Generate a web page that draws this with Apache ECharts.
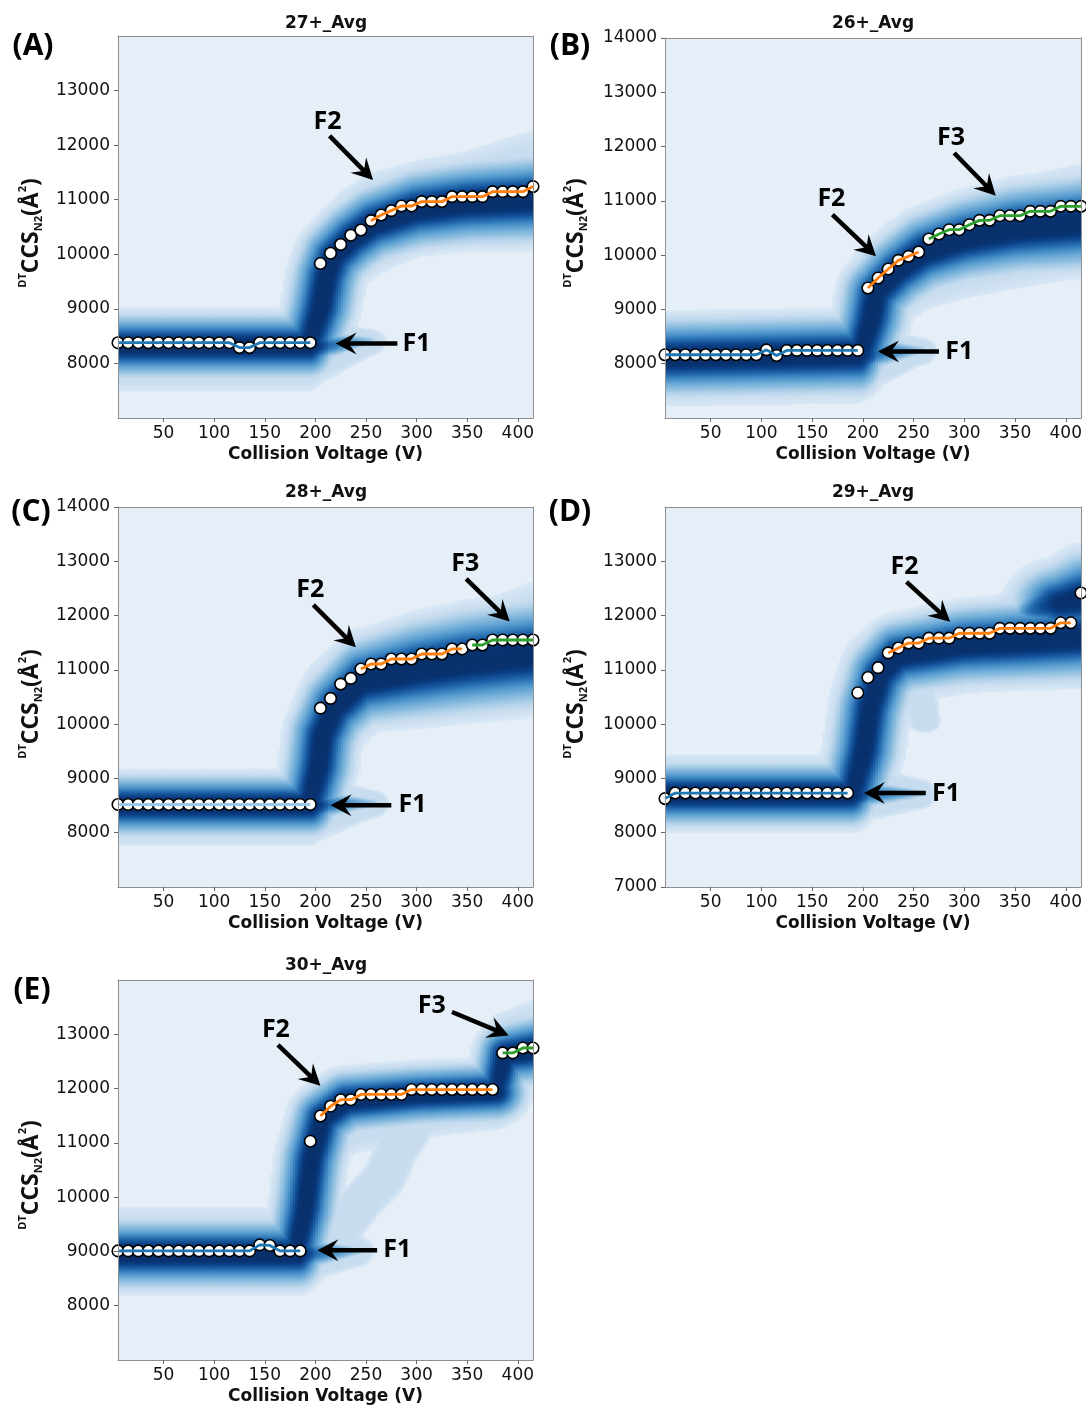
<!DOCTYPE html>
<html><head><meta charset="utf-8">
<script src="https://cdn.jsdelivr.net/npm/echarts@6/dist/echarts.min.js"></script>
<style>html,body{margin:0;padding:0;background:#fff}#c{width:1086px;height:1408px}</style>
</head><body><div id="c"></div>
<script>
// ---------------- DATA ----------------
const X_MIN = 5, X_MAX = 415, Y_MIN = 7000, Y_MAX = 14000;
const VOLTAGES = [5,15,25,35,45,55,65,75,85,95,105,115,125,135,145,155,165,175,185,195,205,215,225,235,245,255,265,275,285,295,305,315,325,335,345,355,365,375,385,395,405,415];
const X_TICKS = [50,100,150,200,250,300,350,400];
const TITLES = ['27+_Avg','26+_Avg','28+_Avg','29+_Avg','30+_Avg'];
const PANEL_LETTERS = ['(A)','(B)','(C)','(D)','(E)'];

const A_Y_TICKS = [8000,9000,10000,11000,12000,13000];
const B_Y_TICKS = [8000,9000,10000,11000,12000,13000,14000];
const C_Y_TICKS = [8000,9000,10000,11000,12000,13000,14000];
const D_Y_TICKS = [7000,8000,9000,10000,11000,12000,13000];
const E_Y_TICKS = [8000,9000,10000,11000,12000,13000];

// feature centroids (CCS) at each voltage
const A_CCS = [8380,8380,8380,8380,8380,8380,8380,8380,8380,8380,8380,8380,8290,8290,8380,8380,8380,8380,8380,8380,9830,10020,10180,10350,10445,10616,10720,10800,10885,10885,10965,10965,10965,11056,11056,11056,11056,11148,11148,11148,11148,11240];
const B_CCS = [8165,8165,8165,8165,8165,8165,8165,8165,8165,8165,8255,8150,8245,8245,8245,8245,8245,8245,8245,8245,9394,9579,9744,9904,9978,10058,10297,10389,10469,10469,10561,10641,10641,10727,10727,10727,10807,10807,10807,10899,10899,10899];
const C_CCS = [8520,8520,8520,8520,8520,8520,8520,8520,8520,8520,8520,8520,8520,8520,8520,8520,8520,8520,8520,8520,10295,10474,10738,10843,11015,11108,11108,11200,11200,11200,11292,11292,11292,11385,11385,11458,11458,11550,11550,11550,11550,11550];
const D_CCS = [8628,8731,8731,8731,8731,8731,8731,8731,8731,8731,8731,8731,8731,8731,8731,8731,8731,8731,8731,10577,10860,11041,11312,11403,11493,11493,11584,11584,11584,11674,11674,11674,11674,11765,11765,11765,11765,11765,11765,11867,11867,12416];
const E_CCS = [9010,9010,9010,9010,9010,9010,9010,9010,9010,9010,9010,9010,9010,9010,9120,9110,9010,9010,9010,11030,11494,11675,11795,11795,11892,11892,11892,11892,11892,11982,11982,11982,11982,11982,11982,11982,11982,11982,12657,12657,12747,12747];

// feature fit lines: [feature, fromV, toV]
const A_LINES = [['F1',5,195],['F2',255,415]];
const B_LINES = [['F1',5,195],['F2',205,255],['F3',265,415]];
const C_LINES = [['F1',5,195],['F2',245,345],['F3',355,415]];
const D_LINES = [['F1',5,185],['F2',225,405]];
const E_LINES = [['F1',5,185],['F2',205,375],['F3',385,415]];

// annotation arrows: [tailV, tailCCS, tipV, tipCCS]; labels: [text, V, CCS]
const A_ARROWS = [[214,12169,257,11362],[281,8367,220,8367]];
const A_LABELS = [['F2',212,12431],['F1',300,8367]];
const B_ARROWS = [[290,11882,331,11096],[170,10746,213,9978],[275,8227,215,8227]];
const B_LABELS = [['F3',287,12158],['F2',169,11034],['F1',295,8227]];
const C_ARROWS = [[198,12197,240,11415],[349,12677,392,11889],[275,8505,215,8505]];
const C_LABELS = [['F2',195,12480],['F3',348,12954],['F1',296,8505]];
const D_ARROWS = [[243,12621,286,11885],[262,8731,201,8731]];
const D_LABELS = [['F2',241,12898],['F1',282,8720]];
const E_ARROWS = [[335,13410,391,12976],[163,12807,205,12054],[261,9024,202,9024]];
const E_LABELS = [['F3',315,13518],['F2',161,13078],['F1',281,9024]];

// fingerprint density bands: path vertices [V, centreCCS, coreHalfWidth, haloUp, haloDown, coreAmp]
const A_BAND_F1 = [[0,8320,260,570,840,1],[194,8320,260,570,840,1],[214,8340,170,470,620,0.4],[252,8420,110,220,300,0.15]];
const A_BAND_F2 = [[195,8420,150,250,250,0.9],[205,9000,250,550,550,1],[211,9600,270,800,800,1],[218,9950,280,900,950,1],[236,10280,290,950,950,1],[257,10550,300,950,950,1],[300,10820,320,900,850,1],[350,10940,330,950,850,1],[420,11010,350,1300,620,1]];
const B_BAND_F1 = [[0,8110,320,670,900,1],[196,8170,320,620,900,1],[214,8200,200,450,650,0.4],[255,8250,120,250,300,0.15]];
const B_BAND_F2 = [[199,8250,150,250,250,0.9],[208,8800,250,550,600,1],[213,9300,280,1000,900,1],[234,9700,300,950,1000,1],[260,10050,320,900,1050,1],[300,10300,340,900,1100,1],[350,10480,360,950,1100,1],[420,10600,380,1100,1000,1]];
const C_BAND_F1 = [[0,8500,250,640,750,1],[195,8500,250,640,750,1],[213,8520,170,500,600,0.4],[255,8550,110,250,300,0.15]];
const C_BAND_F2 = [[195,8600,150,250,250,0.9],[203,9200,250,600,600,1],[207,9800,300,900,900,1],[219,10300,320,1000,1000,1],[246,10780,350,1000,1000,1],[300,11000,400,950,1000,1],[350,11150,420,1000,1050,1],[420,11300,430,1350,900,1]];
const D_BAND_F1 = [[0,8700,260,740,700,1],[188,8700,260,740,700,1],[206,8710,170,550,500,0.4],[255,8720,110,280,300,0.15]];
const D_BAND_F2 = [[191,8800,150,250,250,0.9],[201,9500,250,600,600,1],[207,10300,300,900,900,1],[217,10900,300,900,900,1],[234,11250,300,800,900,1],[300,11460,320,700,900,1],[350,11510,330,700,900,1],[420,11600,350,900,800,1]];
const D_BAND_F3 = [[355,12000,150,500,400,0.2],[395,12230,330,750,600,0.85],[420,12330,380,800,600,0.95]];
const D_BAND_X = [[256,10650,80,300,300,0.03],[261,10050,80,220,220,0.03]];
const E_BAND_F1 = [[0,8950,280,870,700,1],[183,8950,280,870,700,1],[200,8970,190,600,500,0.4],[240,9000,110,300,300,0.15]];
const E_BAND_F2 = [[182,9100,150,300,300,0.9],[190,9800,250,700,700,1],[196,10700,280,900,900,1],[207,11450,260,700,1100,1],[230,11760,250,550,1000,1],[300,11880,240,520,800,1],[378,11940,240,520,700,1]];
const E_BAND_F3 = [[379,11980,200,300,300,0.85],[387,12620,250,800,600,1],[420,12720,280,950,700,1]];
const E_BAND_T = [[198,8950,150,350,350,0.05],[222,9350,150,400,400,0.05],[245,9900,150,400,400,0.05],[268,10350,150,400,400,0.05],[280,10850,150,400,400,0.05],[295,11300,150,400,400,0.05]];

// horizontal widths [halo, core] (V) for each band
const A_BANDS = [A_BAND_F1, A_BAND_F2];            const A_BAND_HX = [[18,9],[28,12]];
const B_BANDS = [B_BAND_F1, B_BAND_F2];            const B_BAND_HX = [[18,9],[32,12]];
const C_BANDS = [C_BAND_F1, C_BAND_F2];            const C_BAND_HX = [[18,9],[38,12]];
const D_BANDS = [D_BAND_F1, D_BAND_F2, D_BAND_F3, D_BAND_X]; const D_BAND_HX = [[18,9],[42,12],[35,18],[16,8]];
const E_BANDS = [E_BAND_F1, E_BAND_F2, E_BAND_F3, E_BAND_T]; const E_BAND_HX = [[18,9],[30,11],[25,10],[22,12]];

// colour scale (intensity -> colour)
const CMAP_STOPS  = [0, 0.049, 0.05, 0.07, 0.09, 0.12, 0.16, 0.22, 0.3, 0.4, 0.52, 0.65, 0.8, 1];
const CMAP_COLORS = ['#e6eff8','#e6eff8','#d9e8f5','#d0e2f2','#c8dcef','#aed0e8','#8abbde','#62a4d3','#3f88c3','#2469ad','#135198','#0a3e83','#083270','#08306b'];

// ---------------- LAYOUT / STYLE ----------------
const GRIDS = [
  {left:118, top:36, width:415, height:382},
  {left:665, top:38, width:416, height:380},
  {left:118, top:507, width:415, height:380},
  {left:665, top:507, width:416, height:380},
  {left:118, top:980, width:415, height:380}
];
const TITLE_POS = [[326,24],[873,24],[326,493],[873,493],[326,966]];
const LETTER_POS = [[33,46],[570,46],[31,512],[570,512],[32,990]];
const YNAME_POS = [[31,233],[576,233],[31,704],[576,704],[31,1175]];
const F1_COLORS = ['#1f77b4','#1f77b4','#9cc8e6','#1f77b4','#1f77b4'];
const FEATURE_COLORS = {F2:'#ff7f0e', F3:'#2ca02c'};
const CORE_SCALE = 0.8;

const PANEL_CCS = [A_CCS,B_CCS,C_CCS,D_CCS,E_CCS];
const PANEL_LINES = [A_LINES,B_LINES,C_LINES,D_LINES,E_LINES];
const PANEL_ARROWS = [A_ARROWS,B_ARROWS,C_ARROWS,D_ARROWS,E_ARROWS];
const PANEL_LABELS = [A_LABELS,B_LABELS,C_LABELS,D_LABELS,E_LABELS];
const PANEL_YTICKS = [A_Y_TICKS,B_Y_TICKS,C_Y_TICKS,D_Y_TICKS,E_Y_TICKS];
const PANEL_BANDS = [A_BANDS,B_BANDS,C_BANDS,D_BANDS,E_BANDS];
const PANEL_BAND_HX = [A_BAND_HX,B_BAND_HX,C_BAND_HX,D_BAND_HX,E_BAND_HX];

// ---------------- density model ----------------
const DENSITY_STEP = 2.5, DENSITY_ROWS = 280;
const DENSITY_COLUMNS = [];
for (let v = X_MIN + DENSITY_STEP/2; v < X_MAX; v += DENSITY_STEP) DENSITY_COLUMNS.push([v]);

const CMAP_RGB = CMAP_COLORS.map(h => [parseInt(h.slice(1,3),16), parseInt(h.slice(3,5),16), parseInt(h.slice(5,7),16)]);
function cmap(I) {
  if (I <= CMAP_STOPS[0]) return 'rgb(' + CMAP_RGB[0].join(',') + ')';
  for (let i = 1; i < CMAP_STOPS.length; i++) {
    if (I <= CMAP_STOPS[i]) {
      const t = (I - CMAP_STOPS[i-1]) / (CMAP_STOPS[i] - CMAP_STOPS[i-1]);
      const a = CMAP_RGB[i-1], b = CMAP_RGB[i];
      return 'rgb(' + Math.round(a[0]+(b[0]-a[0])*t) + ',' + Math.round(a[1]+(b[1]-a[1])*t) + ',' + Math.round(a[2]+(b[2]-a[2])*t) + ')';
    }
  }
  return 'rgb(' + CMAP_RGB[CMAP_RGB.length-1].join(',') + ')';
}
const PED = 0.09;
function pedestal(u) { if (u <= 0.75) return PED; if (u < 1) return PED - 0.035*(u-0.75)/0.25; return 0; }
function lerpV(a, b, t) { const r = []; for (let i = 0; i < a.length; i++) r.push(a[i] + (b[i]-a[i])*t); return r; }
function project(v, c, a, b, sx, sy) {
  const dx = (b[0]-a[0])/sx, dy = (b[1]-a[1])/sy;
  const px = (v-a[0])/sx, py = (c-a[1])/sy;
  const L = dx*dx + dy*dy;
  if (L === 0) return 0;
  let t = (px*dx + py*dy)/L;
  return t < 0 ? 0 : (t > 1 ? 1 : t);
}
function bandValue(v, c, path, hx, hxc) {
  let best = 0;
  for (let i = 0; i < path.length - 1; i++) {
    const a = path[i], b = path[i+1];
    const t = project(v, c, a, b, hx, (a[3]+a[4]+b[3]+b[4])/4);
    const q = lerpV(a, b, t);
    const dx = (v - q[0]) / hx, dyr = c - q[1];
    const dy = dyr / (dyr > 0 ? q[3] : q[4]);
    const p = pedestal(Math.sqrt(dx*dx + dy*dy));
    if (p > best) best = p;
    const t2 = project(v, c, a, b, hxc, CORE_SCALE*(a[2]+b[2])/2);
    const q2 = lerpV(a, b, t2);
    const ex = (v - q2[0]) / hxc, ey = (c - q2[1]) / (CORE_SCALE*q2[2]);
    const d2 = ex*ex + ey*ey;
    const core = q2[5] * (0.65*Math.exp(-d2) + 0.35*Math.exp(-d2/6));
    if (core > best) best = core;
  }
  return best;
}
function makeDensityRenderer(bands, hxs) {
  return function (params, api) {
    const v = api.value(0);
    const p0 = api.coord([v - DENSITY_STEP/2, Y_MAX]);
    const p1 = api.coord([Math.min(v + DENSITY_STEP/2, X_MAX), Y_MIN]);
    const stops = [];
    for (let k = 0; k <= DENSITY_ROWS; k++) {
      const c = Y_MAX - (Y_MAX - Y_MIN) * k / DENSITY_ROWS;
      let I = 0;
      for (let b = 0; b < bands.length; b++) {
        const val = bandValue(v, c, bands[b], hxs[b][0], hxs[b][1]);
        if (val > I) I = val;
      }
      stops.push({offset: k / DENSITY_ROWS, color: cmap(I)});
    }
    const extra = (v + DENSITY_STEP/2 < X_MAX) ? 0.8 : 0;
    return {
      type: 'rect', silent: true,
      shape: {x: p0[0], y: p0[1], width: p1[0]-p0[0]+extra, height: p1[1]-p0[1]},
      style: {fill: new echarts.graphic.LinearGradient(0, 0, 0, 1, stops)}
    };
  };
}
function renderArrow(params, api) {
  const p0 = api.coord([api.value(0), api.value(1)]);
  const p1 = api.coord([api.value(2), api.value(3)]);
  const dx = p1[0]-p0[0], dy = p1[1]-p0[1], len = Math.hypot(dx, dy);
  const ux = dx/len, uy = dy/len, nx = -uy, ny = ux;
  const L = 21, W = 11, N = 13;
  const base = [p1[0]-ux*N, p1[1]-uy*N];
  return {type: 'group', children: [
    {type: 'line', shape: {x1: p0[0], y1: p0[1], x2: base[0]+ux*2, y2: base[1]+uy*2}, style: {stroke: '#000', lineWidth: 4.5}},
    {type: 'polygon', shape: {points: [p1, [p1[0]-ux*L+nx*W, p1[1]-uy*L+ny*W], base, [p1[0]-ux*L-nx*W, p1[1]-uy*L-ny*W]]}, style: {fill: '#000'}}
  ]};
}
function makeLabelRenderer(labels) {
  return function (params, api) {
    const p = api.coord([api.value(0), api.value(1)]);
    return {type: 'text', x: p[0], y: p[1], style: {
      text: labels[params.dataIndex][0], font: 'bold 25px "Open Sans"', fill: '#000',
      align: 'center', verticalAlign: 'middle', textAlign: 'center', textVerticalAlign: 'middle'}};
  };
}

// ---------------- build option ----------------
const grid = [], xAxis = [], yAxis = [], series = [], graphicEls = [];
const SPINE = '#8f8f8f';
const plain = v => String(v);
for (let i = 0; i < 5; i++) {
  grid.push(Object.assign({containLabel: false, show: false}, GRIDS[i]));
  xAxis.push({type: 'value', gridIndex: i, min: X_MIN, max: X_MAX, position: 'bottom', z: 10,
    axisLine: {show: true, onZero: false, lineStyle: {color: SPINE, width: 1}},
    axisTick: {show: true, length: 4, customValues: X_TICKS, lineStyle: {color: '#666'}},
    axisLabel: {customValues: X_TICKS, formatter: plain, fontFamily: 'DejaVu Sans', fontSize: 17, color: '#111', margin: 7},
    splitLine: {show: false},
    name: 'Collision Voltage (V)', nameLocation: 'middle', nameGap: 28,
    nameTextStyle: {fontFamily: 'DejaVu Sans', fontWeight: 'bold', fontSize: 17, color: '#111'}});
  xAxis.push({type: 'value', gridIndex: i, min: X_MIN, max: X_MAX, position: 'top', z: 10,
    axisLine: {show: true, onZero: false, lineStyle: {color: SPINE, width: 1}},
    axisTick: {show: false}, axisLabel: {show: false}, splitLine: {show: false}});
  yAxis.push({type: 'value', gridIndex: i, min: Y_MIN, max: Y_MAX, interval: 1000, position: 'left', z: 10,
    axisLine: {show: true, onZero: false, lineStyle: {color: SPINE, width: 1}},
    axisTick: {show: true, length: 4, customValues: PANEL_YTICKS[i], lineStyle: {color: '#666'}},
    axisLabel: {customValues: PANEL_YTICKS[i], formatter: plain, fontFamily: 'DejaVu Sans', fontSize: 17, color: '#111', margin: 8},
    splitLine: {show: false}});
  yAxis.push({type: 'value', gridIndex: i, min: Y_MIN, max: Y_MAX, interval: 1000, position: 'right', z: 10,
    axisLine: {show: true, onZero: false, lineStyle: {color: SPINE, width: 1}},
    axisTick: {show: false}, axisLabel: {show: false}, splitLine: {show: false}});

  const xi = 2*i, yi = 2*i;
  series.push({type: 'custom', name: 'density' + i, xAxisIndex: xi, yAxisIndex: yi, z: 1, silent: true,
    renderItem: makeDensityRenderer(PANEL_BANDS[i], PANEL_BAND_HX[i]), data: DENSITY_COLUMNS, animation: false});

  const pts = VOLTAGES.map((v, k) => [v, PANEL_CCS[i][k]]);
  series.push({type: 'scatter', xAxisIndex: xi, yAxisIndex: yi, z: 3, data: pts, symbolSize: 11.5,
    itemStyle: {color: '#ffffff', borderColor: '#000', borderWidth: 1.6, opacity: 1}, clip: true, animation: false});

  PANEL_LINES[i].forEach(ln => {
    const d = pts.filter(p => p[0] >= ln[1] && p[0] <= ln[2]);
    series.push({type: 'line', xAxisIndex: xi, yAxisIndex: yi, z: 4, data: d, symbol: 'none', clip: true,
      lineStyle: {color: ln[0] === 'F1' ? F1_COLORS[i] : FEATURE_COLORS[ln[0]], width: 2.8}, animation: false});
  });

  series.push({type: 'custom', xAxisIndex: xi, yAxisIndex: yi, z: 6, renderItem: renderArrow,
    data: PANEL_ARROWS[i], encode: {x: [0, 2], y: [1, 3]}, animation: false});
  series.push({type: 'custom', xAxisIndex: xi, yAxisIndex: yi, z: 6, renderItem: makeLabelRenderer(PANEL_LABELS[i]),
    data: PANEL_LABELS[i].map(l => [l[1], l[2]]), animation: false});

  graphicEls.push({type: 'text', x: TITLE_POS[i][0], y: TITLE_POS[i][1], style: {text: TITLES[i],
    font: 'bold 17px "DejaVu Sans"', fill: '#111', align: 'center', verticalAlign: 'middle', textAlign: 'center', textVerticalAlign: 'middle'}});
  graphicEls.push({type: 'text', x: LETTER_POS[i][0], y: LETTER_POS[i][1], style: {text: PANEL_LETTERS[i],
    font: 'bold 30px "Open Sans"', fill: '#000', align: 'center', verticalAlign: 'middle', textAlign: 'center', textVerticalAlign: 'middle'}});
  graphicEls.push({type: 'text', x: YNAME_POS[i][0], y: YNAME_POS[i][1], rotation: Math.PI/2, style: {
    text: '{s|DT}{b|CCS}{n|N2}{b|(Å}{s|2}{b|)}', fill: '#111', align: 'center', verticalAlign: 'middle',
    textAlign: 'center', textVerticalAlign: 'middle',
    rich: {
      s: {fontSize: 11, fontWeight: 'bold', fontFamily: 'Open Sans', verticalAlign: 'top', lineHeight: 13, fill: '#111'},
      b: {fontSize: 23, fontWeight: 'bold', fontFamily: 'Open Sans', lineHeight: 27, fill: '#111'},
      n: {fontSize: 11, fontWeight: 'bold', fontFamily: 'Open Sans', verticalAlign: 'bottom', lineHeight: 13, fill: '#111'}
    }}});
}

const chart = echarts.init(document.getElementById('c'), null, {renderer: 'canvas'});
chart.setOption({animation: false, backgroundColor: '#ffffff', grid, xAxis, yAxis, series, graphic: {elements: graphicEls}});
</script></body></html>
